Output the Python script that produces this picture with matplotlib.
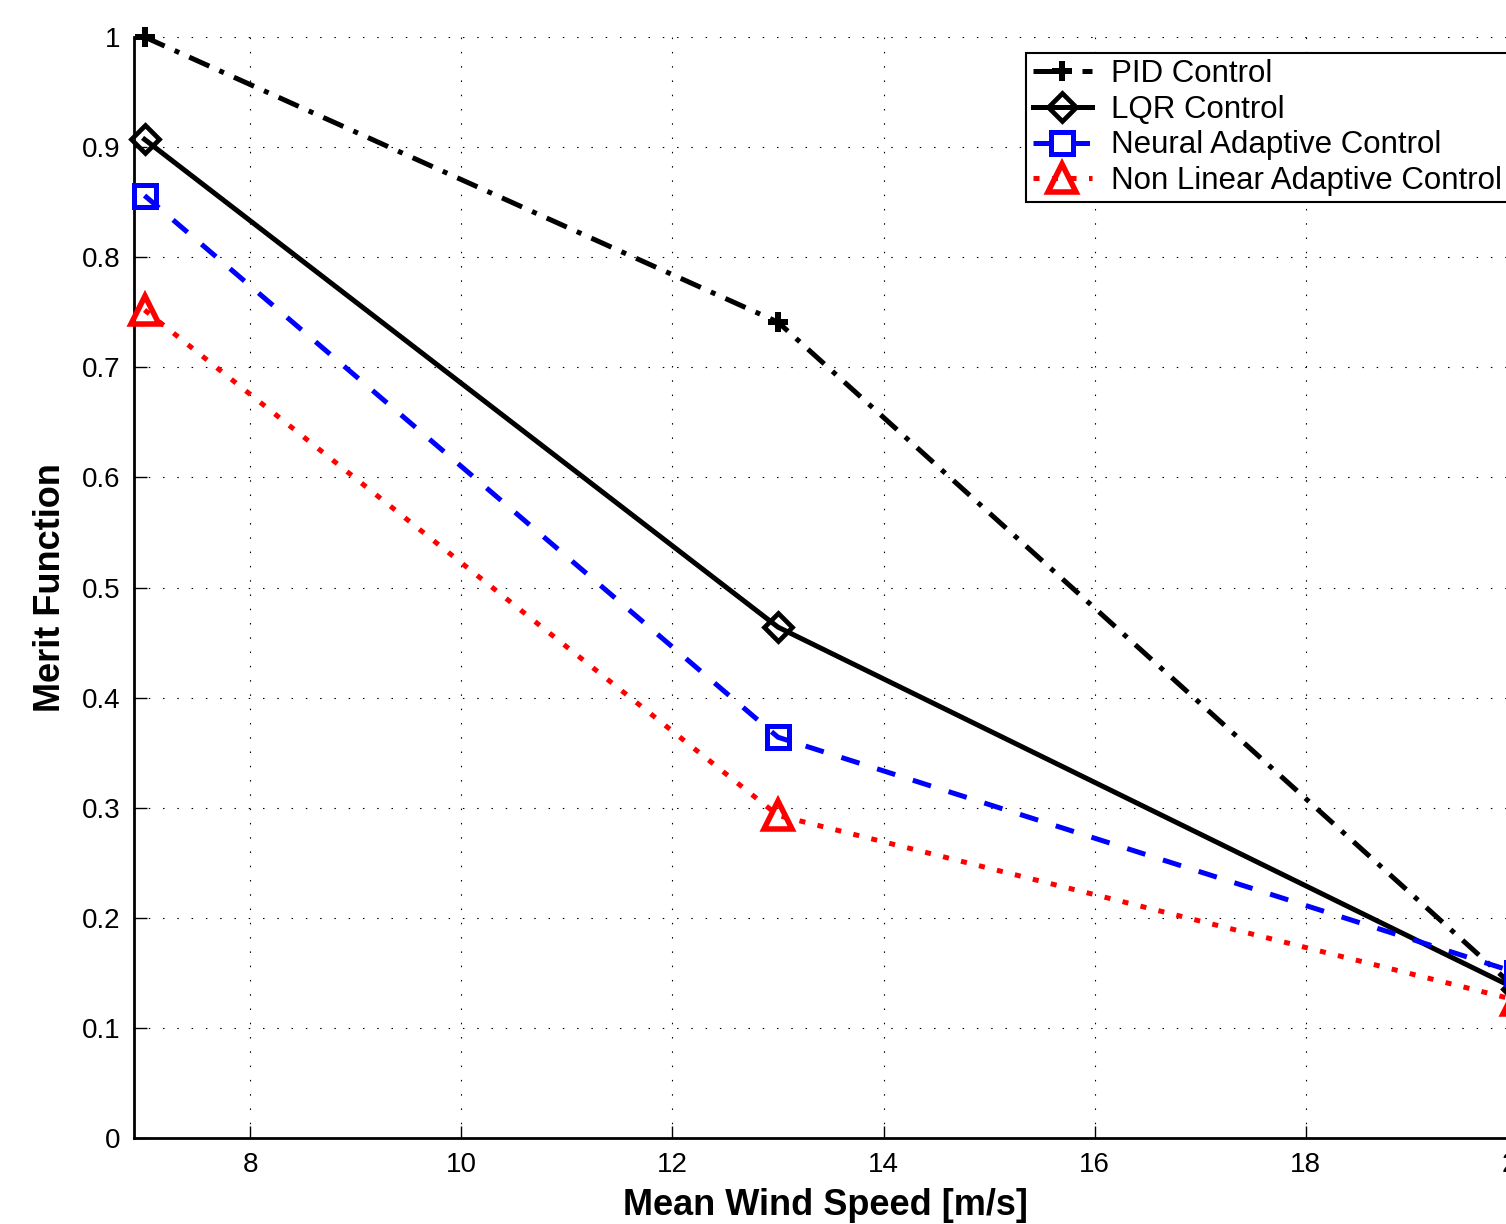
import matplotlib.pyplot as plt

plt.rcParams['font.family'] = ['Liberation Sans', 'DejaVu Sans']

wind = [7, 13, 20]
pid = [1.0, 0.741, 0.135]
lqr = [0.907, 0.464, 0.135]
neural = [0.856, 0.364, 0.150]
nonlin = [0.752, 0.293, 0.125]

fig = plt.figure(figsize=(15.06, 12.24), dpi=100)
# axes run slightly past the right edge of the figure, like the cropped original
ax = fig.add_axes([134/1506, 1-1138/1224, (1517-134)/1506, (1138-37)/1224])

lw = 3.6
ax.plot(wind, pid, color='k', lw=lw, dashes=(4.4, 2.2, 1.0, 2.2),
        marker='P', ms=15, mew=0, label='PID Control', clip_on=False, zorder=3)
ax.plot(wind, lqr, color='k', lw=lw, ls='-',
        marker='D', ms=14, mfc='none', mew=3.4, label='LQR Control', clip_on=False, zorder=3)
ax.plot(wind, neural, color='b', lw=lw, dashes=(3.8, 3.7),
        marker='s', ms=16, mfc='none', mew=3.6, label='Neural Adaptive Control', clip_on=False, zorder=3)
ax.plot(wind, nonlin, color='r', lw=lw, dashes=(1.2, 2.5),
        marker='^', ms=20, mfc='none', mew=4, label='Non Linear Adaptive Control', clip_on=False, zorder=3)

ax.set_xlim(6.9, 20)
ax.set_ylim(0, 1)
ax.set_xticks([8, 10, 12, 14, 16, 18, 20])
ax.set_yticks([0, 0.1, 0.2, 0.3, 0.4, 0.5, 0.6, 0.7, 0.8, 0.9, 1])
ax.set_yticklabels(['0', '0.1', '0.2', '0.3', '0.4', '0.5', '0.6', '0.7', '0.8', '0.9', '1'])

ax.grid(True, color='k', lw=0.8, dashes=(1.35, 11.5))
ax.set_axisbelow(True)
ax.tick_params(direction='in', length=9, width=1, labelsize=20, pad=10)
for s in ['top', 'right']:
    ax.spines[s].set_visible(False)
for s in ['left', 'bottom']:
    ax.spines[s].set_linewidth(2)

ax.set_xlabel('Mean Wind Speed [m/s]', fontsize=26, fontweight='bold', labelpad=7)
ax.set_ylabel('Merit Function', fontsize=26, fontweight='bold', labelpad=10)

leg = ax.legend(loc='upper right', bbox_to_anchor=(1508/1506, 1-53/1224),
                bbox_transform=fig.transFigure, fontsize=22.5, frameon=True,
                fancybox=False, edgecolor='k', framealpha=1, borderpad=0.2,
                labelspacing=0.18, handlelength=1.9, handletextpad=0.6, borderaxespad=0)
leg.get_frame().set_linewidth(1.5)

fig.savefig('out.png', dpi=100)
